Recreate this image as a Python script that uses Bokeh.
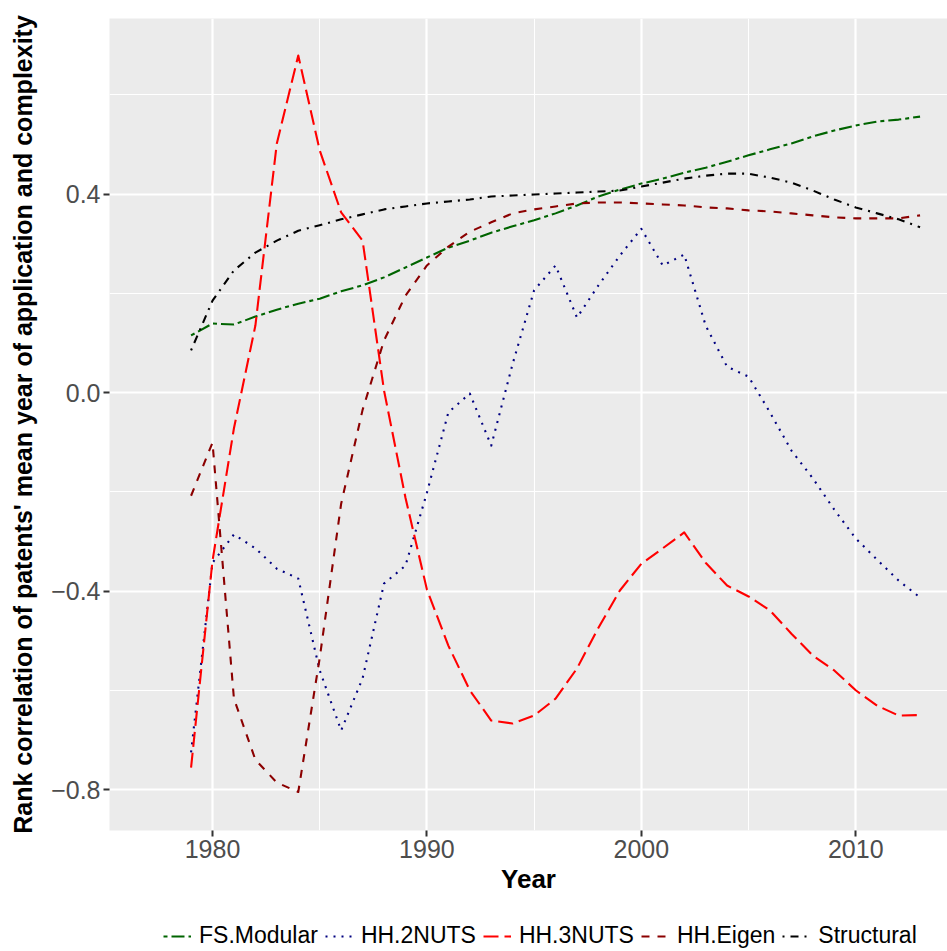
from bokeh.plotting import figure
from bokeh.layouts import column
from bokeh.models import Range1d, FixedTicker, Legend, LegendItem
from bokeh.embed import file_html
from bokeh.resources import INLINE

years = list(range(1979, 2014))

fs_modular = [0.115, 0.139, 0.137, 0.153, 0.167, 0.179, 0.189, 0.204, 0.216, 0.232,
              0.252, 0.272, 0.292, 0.306, 0.322, 0.335, 0.347, 0.361, 0.377, 0.395,
              0.409, 0.421, 0.431, 0.443, 0.453, 0.465, 0.478, 0.490, 0.502, 0.516,
              0.528, 0.538, 0.546, 0.550, 0.556]
hh_2nuts = [-0.725, -0.343, -0.286, -0.314, -0.355, -0.375, -0.560, -0.681, -0.576, -0.385,
            -0.349, -0.202, -0.040, -0.002, -0.107, 0.058, 0.206, 0.256, 0.151, 0.216,
            0.276, 0.330, 0.256, 0.278, 0.135, 0.052, 0.032, -0.040, -0.117, -0.173,
            -0.236, -0.294, -0.337, -0.379, -0.413]
hh_3nuts = [-0.756, -0.339, -0.072, 0.135, 0.502, 0.679, 0.488, 0.363, 0.306, 0.004,
            -0.212, -0.397, -0.510, -0.600, -0.661, -0.667, -0.651, -0.617, -0.556, -0.474,
            -0.399, -0.345, -0.314, -0.282, -0.343, -0.389, -0.411, -0.439, -0.486, -0.530,
            -0.560, -0.600, -0.631, -0.651, -0.650]
hh_eigen = [-0.208, -0.101, -0.617, -0.740, -0.786, -0.805, -0.535, -0.224, -0.035, 0.105,
            0.195, 0.256, 0.294, 0.324, 0.343, 0.361, 0.369, 0.375, 0.381, 0.383,
            0.383, 0.381, 0.379, 0.377, 0.373, 0.371, 0.367, 0.365, 0.361, 0.357,
            0.353, 0.351, 0.351, 0.351, 0.357]
structural = [0.085, 0.185, 0.246, 0.282, 0.306, 0.326, 0.337, 0.349, 0.359, 0.369,
              0.375, 0.381, 0.385, 0.389, 0.395, 0.397, 0.399, 0.401, 0.403, 0.405,
              0.407, 0.415, 0.423, 0.431, 0.437, 0.441, 0.441, 0.433, 0.423, 0.407,
              0.389, 0.373, 0.361, 0.349, 0.333]

series_names = ["FS.Modular", "HH.2NUTS", "HH.3NUTS", "HH.Eigen", "Structural"]
series_values = [fs_modular, hh_2nuts, hh_3nuts, hh_eigen, structural]
series_colors = ["#006400", "#000080", "#FF0000", "#8B0000", "#000000"]
series_dashes = ["4 4 13 4", "2 6", "15 6", "8 8", "2 6 8 6"]

x_ticks = [1980, 1990, 2000, 2010]
x_minor = [1975, 1985, 1995, 2005, 2015]
y_ticks = [-0.8, -0.4, 0.0, 0.4]
y_minor = [-0.6, -0.2, 0.2, 0.6]
y_tick_labels = ["\u22120.8", "\u22120.4", "0.0", "0.4"]

FONT = "Liberation Sans"

p = figure(frame_width=838, frame_height=812, output_backend="svg", toolbar_location=None,
           x_range=Range1d(1975.196, 2014.28), y_range=Range1d(-0.8826, 0.7537),
           min_border_left=109, min_border_right=0, min_border_top=18,
           min_border_bottom=79,
           background_fill_color="#EBEBEB", border_fill_color="white",
           outline_line_color=None)

p.xaxis.ticker = FixedTicker(ticks=x_ticks, minor_ticks=x_minor)
p.yaxis.ticker = FixedTicker(ticks=y_ticks, minor_ticks=y_minor)
p.yaxis.major_label_overrides = {t: l for t, l in zip(y_ticks, y_tick_labels)}

for ax in (p.xaxis, p.yaxis):
    ax.axis_line_color = None
    ax.major_tick_line_color = "#333333"
    ax.major_tick_line_width = 2
    ax.major_tick_out = 6
    ax.major_tick_in = 0
    ax.minor_tick_out = 0
    ax.minor_tick_in = 0
    ax.major_label_text_font = FONT
    ax.major_label_text_font_size = "25px"
    ax.major_label_text_color = "#4D4D4D"
    ax.major_label_standoff = 3
    ax.axis_label_text_font = FONT
    ax.axis_label_text_font_style = "bold"
    ax.axis_label_text_color = "black"

p.xaxis.axis_label = "Year"
p.xaxis.axis_label_text_font_size = "26px"
p.xaxis.axis_label_standoff = 3

p.yaxis.axis_label = "Rank correlation of patents' mean year of application and complexity"
p.yaxis.axis_label_text_font_size = "25px"
p.yaxis.axis_label_standoff = 11

for g in (p.xgrid, p.ygrid):
    g.grid_line_color = "white"
    g.grid_line_width = 2.2
    g.minor_grid_line_color = "white"
    g.minor_grid_line_width = 1.1

for name, vals, col, dash in zip(series_names, series_values, series_colors, series_dashes):
    p.line(years, vals, line_color=col, line_width=2.1, line_dash=dash,
           line_join="round")

# legend strip below the chart: the same series, drawn outside its (hidden) view,
# so that only the legend keys and labels show
lf = figure(width=947, height=42, output_backend="svg", toolbar_location=None,
            x_range=Range1d(0, 1), y_range=Range1d(0, 1),
            x_axis_location=None, y_axis_location=None,
            min_border=0, min_border_left=0, min_border_right=0,
            min_border_top=0, min_border_bottom=0,
            background_fill_color="white", border_fill_color="white",
            outline_line_color=None)
lf.xgrid.visible = False
lf.ygrid.visible = False

items = []
for name, vals, col, dash in zip(series_names, series_values, series_colors, series_dashes):
    r = lf.line(years, vals, line_color=col, line_width=2.1, line_dash=dash)
    items.append(LegendItem(label=name, renderers=[r]))

legend = Legend(items=items, orientation="horizontal", location=(54, 2),
                label_text_font=FONT, label_text_font_size="23px",
                label_text_color="black", glyph_width=28, glyph_height=20,
                label_height=20, label_standoff=8, spacing=7, padding=0, margin=0,
                border_line_color=None, background_fill_alpha=0)
lf.add_layout(legend, "center")

layout = column(p, lf, spacing=0)

open("out.html", "w").write(file_html(layout, INLINE))
